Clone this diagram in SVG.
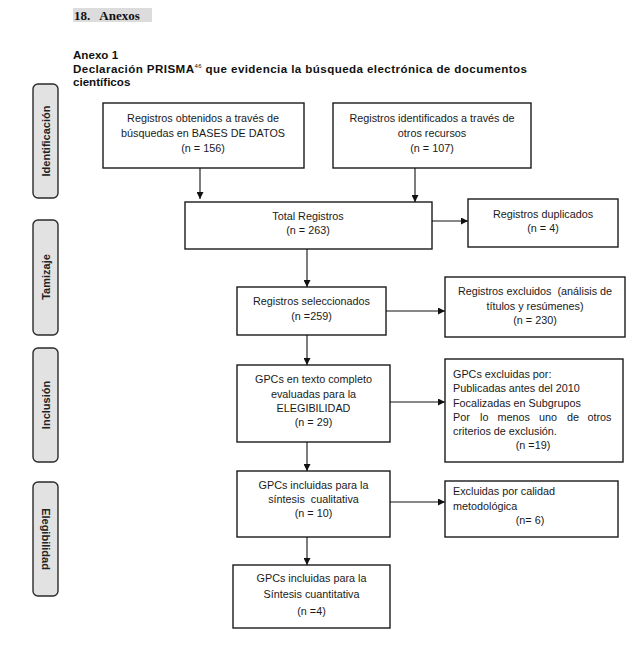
<svg xmlns="http://www.w3.org/2000/svg" width="637" height="658" viewBox="0 0 637 658">
<defs>
<marker id="ah" viewBox="0 0 10 10" refX="10" refY="5" markerWidth="7" markerHeight="7" markerUnits="userSpaceOnUse" orient="auto">
<path d="M0,0 L10,5 L0,10 z" fill="#111"/>
</marker>
</defs>
<style>
.box{fill:#fff;stroke:#1a1a1a;stroke-width:1.4}
.side{fill:#e2e2e2;stroke:#2a2a2a;stroke-width:1.4}
.t{font-family:"Liberation Sans",Arial,sans-serif;font-size:10.8px;fill:#1a1a1a;text-anchor:middle}
.tl{font-family:"Liberation Sans",Arial,sans-serif;font-size:10.8px;fill:#1a1a1a}
.st{font-family:"Liberation Sans",Arial,sans-serif;font-size:11px;font-weight:bold;fill:#222;text-anchor:middle}
.hd{font-family:"Liberation Sans",Arial,sans-serif;font-size:11.6px;font-weight:bold;fill:#111}
.conn line{stroke:#111;stroke-width:1.1;marker-end:url(#ah)}
</style>
<rect width="637" height="658" fill="#fff"/>
<g id="header">
<rect x="73" y="8" width="79" height="14" fill="#dcdcdc"/>
<text x="74" y="19.5" font-family="'Liberation Serif','Times New Roman',serif" font-size="13" font-weight="bold" fill="#111" xml:space="preserve">18.   Anexos</text>
</g>
<g id="title">
<text class="hd" x="73" y="59">Anexo 1</text>
<text class="hd" x="73" y="72.5" textLength="454" lengthAdjust="spacing">Declaración PRISMA<tspan font-size="6" dy="-4.5" font-weight="normal">46</tspan><tspan dy="4.5"> que evidencia la búsqueda electrónica de documentos</tspan></text>
<text class="hd" x="73" y="86">científicos</text>
</g>
<g id="side-identificacion">
<rect class="side" x="33" y="84" width="25" height="114" rx="5"/>
<text class="st" transform="translate(49.5,141) rotate(-90)">Identificación</text>
</g>
<g id="side-tamizaje">
<rect class="side" x="33" y="220" width="25" height="115" rx="5"/>
<text class="st" transform="translate(49.5,277) rotate(-90)">Tamizaje</text>
</g>
<g id="side-inclusion">
<rect class="side" x="33" y="348" width="25" height="114" rx="5"/>
<text class="st" transform="translate(49.5,405) rotate(-90)">Inclusión</text>
</g>
<g id="side-elegibilidad">
<rect class="side" x="33" y="482" width="25" height="114" rx="5"/>
<text class="st" transform="translate(41.5,539) rotate(90)">Elegibilidad</text>
</g>
<g id="n-bases">
<rect class="box" x="103" y="103" width="201" height="65"/>
<text class="t" x="203" y="122">Registros obtenidos a través de</text>
<text class="t" x="203" y="137">búsquedas en BASES DE DATOS</text>
<text class="t" x="203" y="152">(n = 156)</text>
</g>
<g id="n-otros">
<rect class="box" x="333" y="103" width="198" height="65"/>
<text class="t" x="432" y="122">Registros identificados a través de</text>
<text class="t" x="432" y="137">otros recursos</text>
<text class="t" x="432" y="152">(n = 107)</text>
</g>
<g id="n-total">
<rect class="box" x="185" y="202" width="247" height="47"/>
<text class="t" x="308" y="220">Total Registros</text>
<text class="t" x="308" y="234">(n = 263)</text>
</g>
<g id="n-duplicados">
<rect class="box" x="468" y="199" width="150" height="48"/>
<text class="t" x="543" y="218">Registros duplicados</text>
<text class="t" x="543" y="232">(n = 4)</text>
</g>
<g id="n-seleccionados">
<rect class="box" x="237" y="287" width="149" height="48"/>
<text class="t" x="311.5" y="305">Registros seleccionados</text>
<text class="t" x="311.5" y="320">(n =259)</text>
</g>
<g id="n-excluidos">
<rect class="box" x="445" y="277" width="180" height="60"/>
<text class="t" x="535" y="295" xml:space="preserve">Registros excluidos  (análisis de</text>
<text class="t" x="535" y="310">títulos y resúmenes)</text>
<text class="t" x="535" y="324">(n = 230)</text>
</g>
<g id="n-texto">
<rect class="box" x="237" y="365" width="153" height="77"/>
<text class="t" x="313.5" y="383">GPCs en texto completo</text>
<text class="t" x="313.5" y="398">evaluadas para la</text>
<text class="t" x="313.5" y="412">ELEGIBILIDAD</text>
<text class="t" x="313.5" y="426">(n = 29)</text>
</g>
<g id="n-gpc-excluidas">
<rect class="box" x="445" y="359" width="178" height="103"/>
<text class="tl" x="453" y="378">GPCs excluidas por:</text>
<text class="tl" x="453" y="392">Publicadas antes del 2010</text>
<text class="tl" x="453" y="407">Focalizadas en Subgrupos</text>
<text class="tl" y="421"><tspan x="453">Por</tspan><tspan x="480">lo</tspan><tspan x="497.5">menos</tspan><tspan x="539">uno</tspan><tspan x="567">de</tspan><tspan x="587.5">otros</tspan></text>
<text class="tl" x="453" y="435">criterios de exclusión.</text>
<text class="t" x="533" y="449">(n =19)</text>
</g>
<g id="n-cualitativa">
<rect class="box" x="237" y="471" width="153" height="66"/>
<text class="t" x="313.5" y="489">GPCs incluidas para la</text>
<text class="t" x="313.5" y="503" xml:space="preserve">síntesis  cualitativa</text>
<text class="t" x="313.5" y="517">(n = 10)</text>
</g>
<g id="n-calidad">
<rect class="box" x="445" y="481" width="173" height="56"/>
<text class="tl" x="453" y="495">Excluidas por calidad</text>
<text class="tl" x="453" y="510">metodológica</text>
<text class="t" x="530" y="524">(n= 6)</text>
</g>
<g id="n-cuantitativa">
<rect class="box" x="233" y="565" width="157" height="63"/>
<text class="t" x="311.5" y="582">GPCs incluidas para la</text>
<text class="t" x="311.5" y="598">Síntesis cuantitativa</text>
<text class="t" x="311.5" y="615">(n =4)</text>
</g>
<g id="connectors" class="conn">
<line x1="200" y1="168" x2="200" y2="199"/>
<line x1="415" y1="168" x2="415" y2="202"/>
<line x1="432" y1="221" x2="468" y2="221"/>
<line x1="307" y1="249" x2="307" y2="287"/>
<line x1="386" y1="311" x2="445" y2="311"/>
<line x1="307" y1="335" x2="307" y2="365"/>
<line x1="390" y1="402" x2="445" y2="402"/>
<line x1="307" y1="442" x2="307" y2="471"/>
<line x1="390" y1="502" x2="445" y2="502"/>
<line x1="307" y1="537" x2="307" y2="565"/>
</g>
</svg>
